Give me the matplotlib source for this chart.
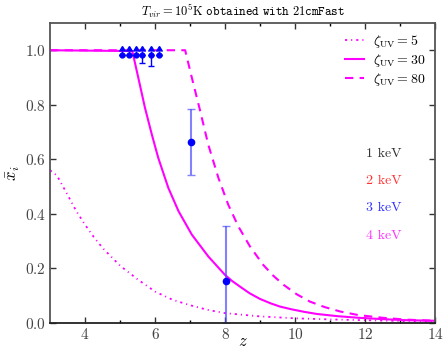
import numpy as np
import matplotlib
matplotlib.use("Agg")
import matplotlib.pyplot as plt

plt.rcParams['font.family'] = 'serif'
plt.rcParams['font.serif'] = ['cmr10', 'DejaVu Serif']
plt.rcParams['mathtext.fontset'] = 'cm'
plt.rcParams['axes.formatter.use_mathtext'] = True

# zeta_UV = 5
z5 = [3.0, 3.2, 3.5, 3.75, 4.0, 4.25, 4.5, 5.0, 5.5, 6.0, 6.5, 7.0, 7.5, 8.0,
      9.0, 10.0, 11.0, 12.0, 13.0, 14.0]
x5 = [0.56, 0.54, 0.47, 0.41, 0.36, 0.315, 0.275, 0.21, 0.16, 0.115, 0.085,
      0.065, 0.048, 0.036, 0.024, 0.017, 0.013, 0.010, 0.007, 0.005]

# zeta_UV = 30
z30 = [3.0, 5.35, 5.52, 5.71, 5.91, 6.09, 6.38, 6.67, 7.05, 7.52, 8.0, 8.2,
       8.43, 8.7, 9.0, 9.3, 9.57, 9.9, 10.25, 10.62, 11.2, 11.8, 12.5, 13.2,
       14.0]
x30 = [1.0, 0.997, 0.90, 0.79, 0.69, 0.606, 0.495, 0.41, 0.324, 0.244, 0.176,
       0.154, 0.133, 0.109, 0.088, 0.072, 0.060, 0.050, 0.041, 0.033, 0.025,
       0.019, 0.014, 0.010, 0.008]

# zeta_UV = 80
z80 = [3.0, 6.86, 7.05, 7.29, 7.52, 7.81, 8.09, 8.38, 8.71, 9.09, 9.38, 9.67,
       10.05, 10.43, 10.85, 11.29, 11.8, 12.5, 13.2, 14.0]
x80 = [1.0, 1.0, 0.90, 0.777, 0.654, 0.532, 0.434, 0.354, 0.281, 0.213, 0.173,
       0.140, 0.105, 0.078, 0.058, 0.042, 0.029, 0.019, 0.012, 0.008]

# observational points
z_obs = [7.02, 8.02]
x_obs = [0.663, 0.154]
x_obs_lo = [0.119, 0.154]
x_obs_hi = [0.12, 0.20]

# lower limits near full ionisation
z_lim = [5.05, 5.26, 5.46, 5.64, 5.89, 6.11]
x_lim = [0.982, 0.982, 0.982, 0.982, 0.982, 0.982]
lim_lo = [0.0, 0.0, 0.0, 0.027, 0.039, 0.0]

kev_labels = ["1 keV", "2 keV", "3 keV", "4 keV"]
kev_colors = ["#333333", "#ff3333", "#3333ff", "#ff33ff"]
kev_y = [0.62, 0.52, 0.42, 0.32]

fig = plt.figure(figsize=(4.43, 3.48), dpi=100)
ax = fig.add_axes([0.113, 0.072, 0.869, 0.862])

mag = "#ff00ff"
ax.plot(z5, x5, color=mag, lw=1.3, dashes=(1.2, 2.2, 0.6, 2.2),
        label=r"$\zeta_{\rm UV}=5$")
ax.plot(z30, x30, color=mag, lw=1.5, label=r"$\zeta_{\rm UV}=30$")
ax.plot(z80, x80, color=mag, lw=1.5, dashes=(4, 3),
        label=r"$\zeta_{\rm UV}=80$")

ax.errorbar(z_obs, x_obs, yerr=[x_obs_lo, x_obs_hi], fmt='o', color='blue',
            ecolor=(0.3, 0.3, 1.0, 0.7), ms=4.5, capsize=3, elinewidth=1.5,
            capthick=1)

ax.errorbar(z_lim, x_lim, yerr=[lim_lo, [0.0] * len(z_lim)], fmt='none',
            ecolor='blue', capsize=2.5, elinewidth=1, capthick=1)
ax.errorbar(z_lim, x_lim, yerr=[[0.0] * len(z_lim), [0.014] * len(z_lim)],
            lolims=True, fmt='o', color='blue', ms=3.5, capsize=2.5,
            elinewidth=1)

for lab, c, y in zip(kev_labels, kev_colors, kev_y):
    ax.text(12.03, y, lab, color=c, fontsize=10, va='center')

ax.set_xlim(3, 14)
ax.set_ylim(0, 1.1)
ax.set_xticks([4, 6, 8, 10, 12, 14])
ax.set_xticks([5, 7, 9, 11, 13], minor=True)
ax.set_yticks([0.0, 0.2, 0.4, 0.6, 0.8, 1.0])
ax.tick_params(direction='in', top=True, right=True, labelsize=11,
               length=4, width=1, colors='#333333', labelcolor='#444444',
               pad=3)
ax.tick_params(which='minor', direction='in', top=True, length=2.5, width=1)
for s in ax.spines.values():
    s.set_color('#555555')
    s.set_linewidth(1.3)
ax.spines['bottom'].set_color('#222222')

ax.set_xlabel(r"$z$", fontsize=12, labelpad=-6)
ax.set_ylabel(r"$\bar{x}_i$", fontsize=12, labelpad=2)
ax.set_title(r"$T_{vir}=10^5{\rm K}\ \mathtt{obtained\ with\ 21cmFast}$",
             fontsize=9, pad=5)

ax.legend(loc='upper right', frameon=False, fontsize=10, handlelength=1.4,
          handletextpad=0.6, borderaxespad=0.3, labelspacing=0.15)

fig.savefig("out.png", dpi=100)
